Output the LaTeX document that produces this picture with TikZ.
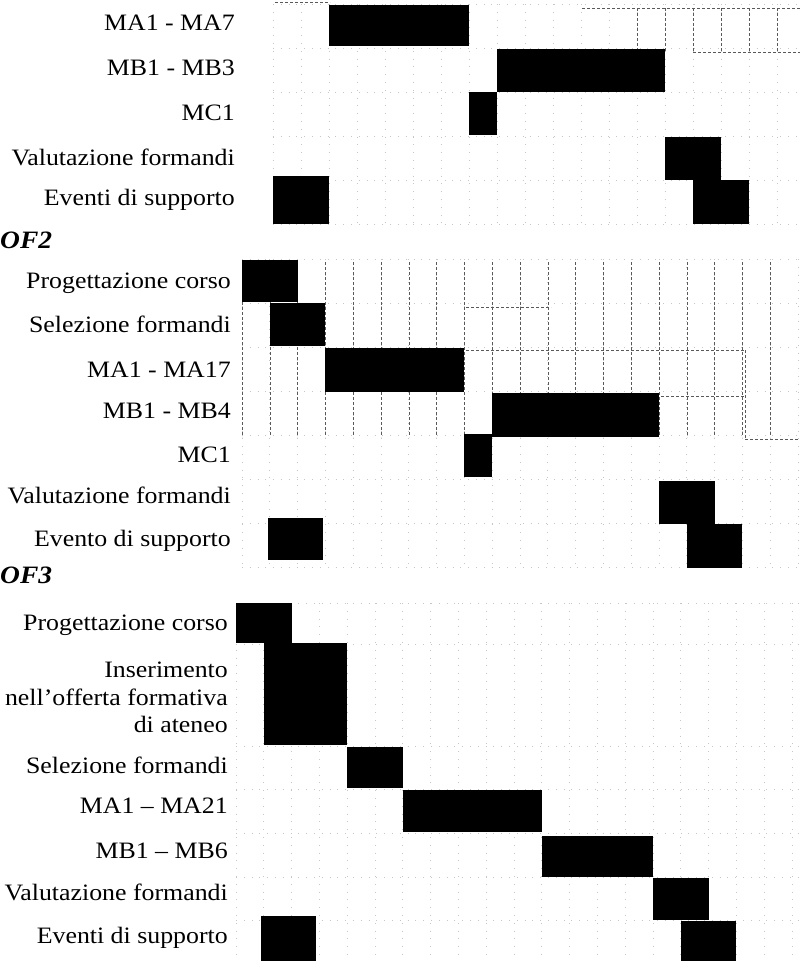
\documentclass[tikz,border=0pt]{standalone}
\usepackage{fontspec}
\setmainfont{Liberation Serif}[FakeStretch=1.1]
\begin{document}
\begin{tikzpicture}[x=1pt,y=-1pt,
  lab/.style={anchor=base east,inner sep=0pt,font=\fontsize{23.5}{28}\selectfont},
  head/.style={anchor=base west,inner sep=0pt,font=\fontsize{25}{28}\selectfont\bfseries\itshape},
  bar/.style={fill=black},
  faint/.style={gray!45,line width=0.7pt,dash pattern=on 0.8pt off 7pt},
  gridline/.style={gray!70!black,densely dashed,line width=0.5pt}]
\useasboundingbox (0,0) rectangle (800,961);
\fill[white] (0,0) rectangle (800,961);

% ---------- faint grids ----------
% section 1
\foreach \k in {0,...,19} \draw[faint] ({273+28*\k},4) -- ({273+28*\k},224);
\foreach \y in {4,48,92,136,180,224} \draw[faint] (273,\y) -- (800,\y);
% section 2
\foreach \k in {0,...,20} \draw[faint] ({242+27.8*\k},259) -- ({242+27.8*\k},567);
\foreach \y in {259,303,347,391,435,479,523,567} \draw[faint] (242,\y) -- (800,\y);
% section 3
\foreach \k in {0,...,20} \draw[faint] ({236+27.8*\k},603) -- ({236+27.8*\k},961);
\foreach \y in {603,644,746,789,833,877,920} \draw[faint] (236,\y) -- (800,\y);

% ---------- darker dashed parts ----------
\draw[gridline] (582,8) -- (800,8);
\foreach \x in {637,665,693,721,749,777} \draw[gridline] (\x,8) -- (\x,52);
\draw[gridline] (693,52) -- (800,52);
\draw[gridline] (275,2) -- (330,2);

\foreach \k in {0,...,19} \draw[gridline] ({242+27.8*\k},262) -- ({242+27.8*\k},437);
\draw[gridline] (466,307) -- (551,307);
\draw[gridline] (466,350) -- (745,350);
\draw[gridline] (661,396) -- (745,396);
\draw[gridline] (745,439) -- (800,439);
\draw[gridline] (745,350) -- (745,439);

% ---------- section 1 ----------
\node[lab] (a1) at (235,30) {MA1 - MA7};
\node[lab] (a2) at (235,75) {MB1 - MB3};
\node[lab] (a3) at (235,120) {MC1};
\node[lab] (a4) at (235,165) {Valutazione formandi};
\node[lab] (a5) at (235,205) {Eventi di supporto};
\fill[bar] (329,5) rectangle (469,46);
\fill[bar] (497,49) rectangle (665,92);
\fill[bar] (469,92) rectangle (497,135);
\fill[bar] (665,137) rectangle (721,180);
\fill[bar] (273,176) rectangle (329,224);
\fill[bar] (693,180) rectangle (749,224);

% ---------- section 2 ----------
\node[head] (h2) at (0,248) {OF2};
\node[lab] (b1) at (231,288) {Progettazione corso};
\node[lab] (b2) at (231,332) {Selezione formandi};
\node[lab] (b3) at (231,377) {MA1 - MA17};
\node[lab] (b4) at (231,418) {MB1 - MB4};
\node[lab] (b5) at (231,462) {MC1};
\node[lab] (b6) at (231,503) {Valutazione formandi};
\node[lab] (b7) at (231,546) {Evento di supporto};
\fill[bar] (242,260) rectangle (297.6,302);
\fill[bar] (269.8,303) rectangle (325.4,346);
\fill[bar] (325.4,348) rectangle (464.4,392);
\fill[bar] (492.2,393) rectangle (659,437);
\fill[bar] (464.4,434) rectangle (492.2,477);
\fill[bar] (659,481) rectangle (714.6,524);
\fill[bar] (268,518) rectangle (323,560);
\fill[bar] (686.8,524) rectangle (742.4,568);

% ---------- section 3 ----------
\node[head] (h3) at (0,583) {OF3};
\node[lab] (c1) at (228,630) {Progettazione corso};
\node[lab] (c2a) at (228,677) {Inserimento};
\node[lab] (c2b) at (228,705) {nell'offerta formativa};
\node[lab] (c2c) at (228,732) {di ateneo};
\node[lab] (c3) at (228,773) {Selezione formandi};
\node[lab] (c4) at (228,813) {MA1 -- MA21};
\node[lab] (c5) at (228,858) {MB1 -- MB6};
\node[lab] (c6) at (228,900) {Valutazione formandi};
\node[lab] (c7) at (228,943) {Eventi di supporto};
\fill[bar] (236,603) rectangle (291.6,643);
\fill[bar] (263.8,643) rectangle (347.2,745);
\fill[bar] (347.2,747) rectangle (402.8,788);
\fill[bar] (402.8,790) rectangle (541.8,832);
\fill[bar] (541.8,836) rectangle (653,877);
\fill[bar] (653,878) rectangle (708.6,920);
\fill[bar] (261,916) rectangle (316,961);
\fill[bar] (680.8,921) rectangle (736.4,961);
\end{tikzpicture}
\end{document}
